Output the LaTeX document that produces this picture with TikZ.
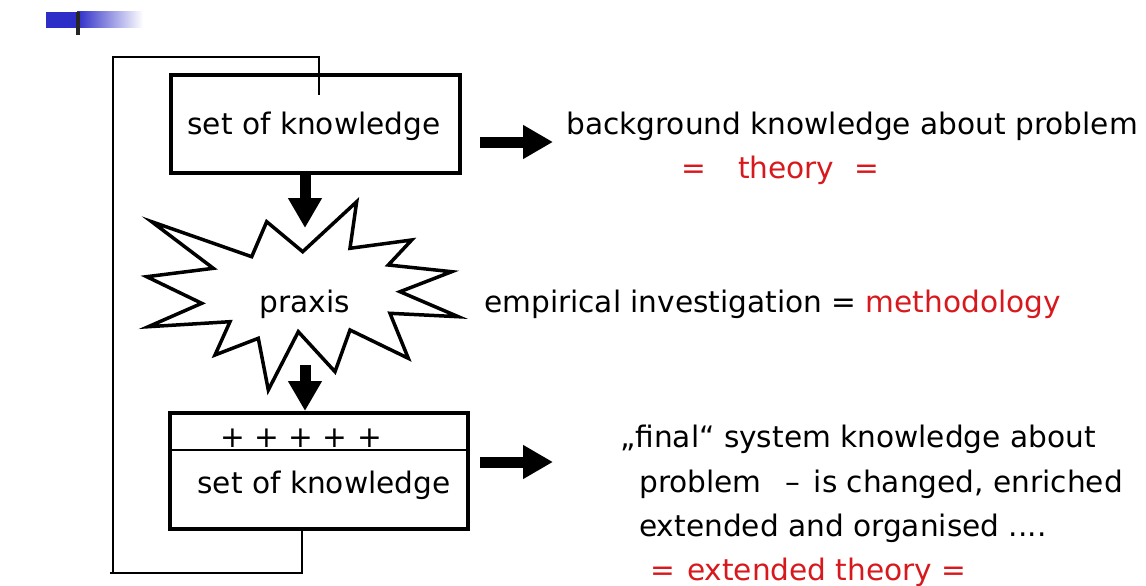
\documentclass[tikz,border=0pt]{standalone}
\usepackage{fontspec}
\setmainfont{DejaVu Sans}
\usetikzlibrary{arrows.meta,calc}
\definecolor{thered}{RGB}{215,25,30}
\definecolor{logoblue}{RGB}{45,45,200}
\tikzset{
	bigarrow/.style={line width=11pt,-{Triangle[length=30pt,width=32pt]}},
	kbox/.style={draw,line width=4pt,inner sep=0pt},
	txt/.style={anchor=base west,inner sep=0}
}

\begin{document}
\begin{tikzpicture}[x=1pt,y=-1pt,font=\fontsize{29.6}{44}\selectfont]
			\useasboundingbox (0,0) rectangle (1146,586);
			%\draw[help lines,step=50] (0,0) grid (1146,586);
			% logo
			\fill[logoblue] (46,12) rectangle (77,28);
			\fill[left color=logoblue,right color=white] (77,12) rectangle (143,28);
			\fill[black!85] (76,12) rectangle (80,35);
			% feedback loop
			\draw[line width=1.3pt] (302,529) |- (110,573);
			\draw[line width=1.3pt] (113,573) -- (113,57) -| (319,95);
			% boxes
			\node[kbox,minimum width=289,minimum height=98] (topbox) at (315.5,124) {};
			\node[anchor=base,inner sep=0] (toptext) at (314,134) {set of knowledge};
			\node[kbox,minimum width=298,minimum height=116] (botbox) at (319,471) {};
			\draw[line width=1.3pt] ($(botbox.north west)+(2,39)$) -- ($(botbox.north east)+(-2,39)$);
			\node[anchor=base,inner sep=0] (plus) at (301,447) {+ + + + +};
			\node[anchor=base,inner sep=0] (bottext) at (324,493) {set of knowledge};
			% praxis star
			\coordinate (star) at (305,303);
			\draw[line width=3.5pt,fill=white] (302.7,251.7) -- (356.7,201.7) -- (350,248.3) -- (411.7,240)
				-- (388.3,265) -- (451.7,271.7) -- (400,291.7) -- (458.3,316.7) -- (390,313.3)
				-- (408.3,358.3) -- (350,330) -- (335,371.7) -- (298.3,331.7) -- (268.3,390)
				-- (258.3,338.3) -- (215,355) -- (230,321.7) -- (148.3,326.7) -- (201.7,303.3)
				-- (146.7,276.7) -- (213.3,268.3) -- (151.7,221.7) -- (251.7,256.7) -- (266.7,221.7) -- cycle;
			\node[anchor=base,inner sep=0] (praxis) at (305,312) {praxis};
			\coordinate (startop) at (305,228);
			\coordinate (starbot) at (305,365);
			\draw[bigarrow] (topbox.south -| startop) -- (startop);
			\draw[bigarrow] (starbot) -- (botbox.north -| starbot);
			% right side
			\coordinate (toparr) at (553,142);
			\coordinate (botarr) at (553,462);
			\draw[bigarrow] ($(topbox.east |- toparr)+(18,0)$) -- (toparr);
			\draw[bigarrow] ($(botbox.east |- botarr)+(10,0)$) -- (botarr);
			\node[txt] (bgknow) at (566,134) {background knowledge about problem};
			\node[txt,text=thered] (theory) at (681,178) {=\hspace{32pt}theory\hspace{20pt}=};
			\node[txt] (empir) at (484,312) {empirical investigation = \textcolor{thered}{methodology}};
			\node[txt] (final1) at (620,447) {„final“ system knowledge about};
			\node[txt] (final2) at (639,492) {problem\hspace{24pt}–\hspace{4pt} is changed, enriched};
			\node[txt] (final3) at (639,536) {extended and organised ....};
			\node[txt,text=thered] (final4) at (650,580) {=\hspace{12pt}extended theory =};
		\end{tikzpicture}
\end{document}
